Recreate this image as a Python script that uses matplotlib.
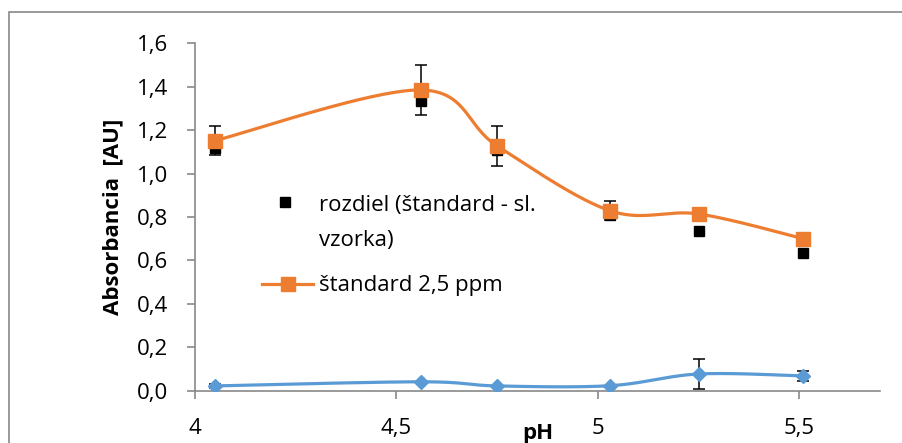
import numpy as np
import matplotlib.pyplot as plt
from matplotlib.patches import Rectangle
from matplotlib.lines import Line2D

plt.rcParams['font.family'] = ['Open Sans', 'DejaVu Sans']

# pH values of the measured points
ph = [4.05, 4.56, 4.75, 5.03, 5.25, 5.51]

# standard 2,5 ppm and its deviations
standard = [1.152, 1.385, 1.127, 0.829, 0.814, 0.700]
standard_err = [0.065, 0.115, 0.09, 0.045, 0.0, 0.01]

# difference (standard - sample)
rozdiel = [1.12, 1.335, 1.11, 0.81, 0.737, 0.636]

# sample series near zero
vzorka = [0.022, 0.041, 0.022, 0.023, 0.077, 0.068]
vzorka_err = [0.01, 0.0, 0.0, 0.0, 0.067, 0.025]

ORANGE = '#ED7D31'
BLUE = '#5B9BD5'
GRAY = '#898989'
FS = 16


def smooth(xs, ys, n=40):
    # Bezier smoothing like spreadsheet "smoothed line" (Catmull-Rom tangents)
    P = np.column_stack([xs, ys]).astype(float)
    P = np.vstack([P[0], P, P[-1]])
    out = []
    t = np.linspace(0, 1, n)[:, None]
    for i in range(1, len(P) - 2):
        p0, p1 = P[i], P[i + 1]
        c1 = p0 + (P[i + 1] - P[i - 1]) / 6
        c2 = p1 - (P[i + 2] - P[i]) / 6
        seg = ((1 - t) ** 3) * p0 + 3 * ((1 - t) ** 2) * t * c1 \
            + 3 * (1 - t) * t ** 2 * c2 + t ** 3 * p1
        out.append(seg if i == 1 else seg[1:])
    out = np.vstack(out)
    return out[:, 0], out[:, 1]


fig = plt.figure(figsize=(9.02, 4.43), dpi=100)
W, H = 902, 443
ax = fig.add_axes([195 / W, 1 - 390.7 / H, (880 - 195) / W, (390.7 - 43.3) / H])

# outer chart frame
fig.patches.append(Rectangle((9 / W, -0.1), 1.2, 1 - 12 / H + 0.1,
                             transform=fig.transFigure, fill=False,
                             edgecolor=GRAY, lw=1.2))

ax.errorbar(ph, standard, yerr=standard_err, fmt='none', ecolor='black',
            elinewidth=1.1, capsize=4, capthick=1.1, zorder=1)
ax.errorbar(ph, vzorka, yerr=vzorka_err, fmt='none', ecolor='black',
            elinewidth=1.1, capsize=4, capthick=1.1, zorder=1)

ax.plot(ph, rozdiel, 's', color='black', ms=6.5, zorder=2)

sx, sy = smooth(ph, standard)
ax.plot(sx, sy, color=ORANGE, lw=2.3, zorder=3)
ax.plot(ph, standard, 's', color=ORANGE, ms=9.5, zorder=4)

bx, by = smooth(ph, vzorka)
ax.plot(bx, by, color=BLUE, lw=2.3, zorder=3)
ax.plot(ph, vzorka, 'D', color=BLUE, ms=7.5, zorder=4)

ax.set_xlim(4, 5.7)
ax.set_ylim(0, 1.6)
ax.set_xticks([4, 4.5, 5, 5.5])
ax.set_xticklabels(['4', '4,5', '5', '5,5'])
yt = np.arange(0, 1.61, 0.2)
ax.set_yticks(yt)
ax.set_yticklabels([f'{v:.1f}'.replace('.', ',') for v in yt])

for s in ['top', 'right']:
    ax.spines[s].set_visible(False)
for s in ['left', 'bottom']:
    ax.spines[s].set_color(GRAY)
    ax.spines[s].set_linewidth(1.2)
ax.tick_params(axis='both', colors=GRAY, labelcolor='black', length=6,
               width=1.2, labelsize=FS)
ax.tick_params(axis='y', pad=13)
ax.tick_params(axis='x', pad=14)

ax.set_ylabel('Absorbancia  [AU]', fontsize=FS, fontweight='bold')
ax.yaxis.set_label_coords(-0.104, 0.5)
ax.set_xlabel('pH', fontsize=FS, fontweight='bold')
ax.xaxis.set_label_coords(0.5, -0.093)

# legend drawn by hand so the marker sits on the first text line
tf = fig.transFigure
fig.lines.append(Line2D([285 / W], [1 - 202 / H], marker='s', color='black',
                        ms=6.5, ls='none', transform=tf))
fig.lines.append(Line2D([262 / W, 313 / W], [1 - 284 / H] * 2, color=ORANGE,
                        lw=2.3, transform=tf))
fig.lines.append(Line2D([287.5 / W], [1 - 284 / H], marker='s', color=ORANGE,
                        ms=9.5, ls='none', transform=tf))
fig.text(319 / W, 1 - 206 / H, 'rozdiel (štandard - sl.', fontsize=FS,
         va='center', ha='left')
fig.text(319 / W, 1 - 240 / H, 'vzorka)', fontsize=FS, va='center', ha='left')
fig.text(319 / W, 1 - 286 / H, 'štandard 2,5 ppm', fontsize=FS,
         va='center', ha='left')

fig.savefig('out.png', dpi=100)
